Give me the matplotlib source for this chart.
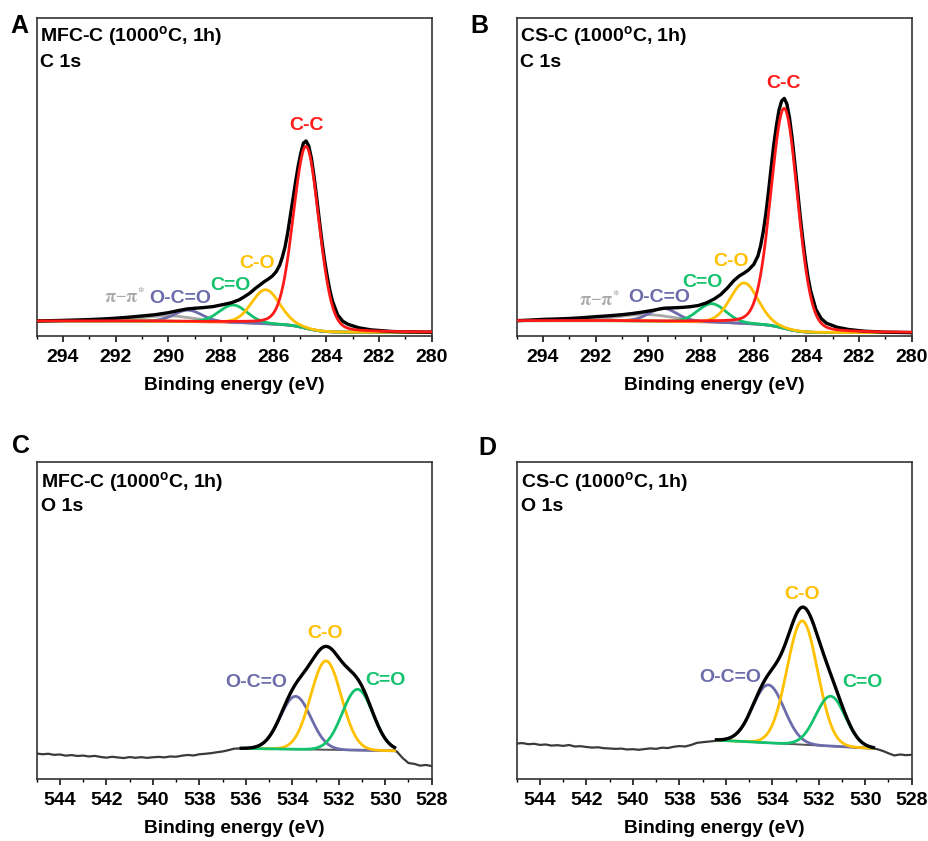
import numpy as np
import matplotlib
matplotlib.use('Agg')
import matplotlib.pyplot as plt
from matplotlib.ticker import MultipleLocator

plt.rcParams['font.family'] = ['Liberation Sans', 'DejaVu Sans']
plt.rcParams['font.weight'] = 'bold'
plt.rcParams['mathtext.fontset'] = 'custom'
plt.rcParams['mathtext.rm'] = 'Liberation Sans:bold'
plt.rcParams['mathtext.bf'] = 'Liberation Sans:bold'

# --- C 1s measured spectra (BE, intensity a.u.) ---
mfc_c1s_be = [280.0, 281.0, 281.5, 282.3, 282.77, 283.17, 283.37, 283.57, 283.77,
              283.87, 283.97, 284.07, 284.17, 284.27, 284.37, 284.47, 284.57,
              284.67, 284.77, 284.87, 284.97, 285.07, 285.17, 285.27, 285.37,
              285.47, 285.57, 285.67, 285.77, 285.9, 286.05, 286.2, 286.35,
              286.5, 286.7, 286.9, 287.1, 287.3, 287.6, 288.0, 288.3, 288.7,
              289.0, 289.3, 289.6, 290.0, 290.5, 291.0, 291.5, 292.0, 292.5,
              293.0, 293.5, 294.0, 294.5, 295.0]
mfc_c1s_counts = [3.8, 4.1, 4.5, 6.1, 8.2, 11.6, 14.6, 21.0, 35.0,
                  46.0, 60.0, 76.0, 95.0, 116.5, 139.0, 160.0, 178.0,
                  190.0, 195.0, 193.0, 183.0, 170.0, 154.0, 137.0, 120.0,
                  103.0, 89.0, 79.0, 71.0, 64.5, 60.0, 57.0, 54.5,
                  51.5, 47.5, 43.0, 39.5, 36.3, 33.3, 31.0, 29.4, 28.3,
                  27.7, 27.0, 25.5, 23.3, 21.3, 20.0, 18.8, 17.8, 17.0,
                  16.4, 16.0, 15.6, 15.3, 15.0]

cs_c1s_be = [280.0, 281.0, 281.8, 282.4, 282.84, 283.24, 283.44, 283.64, 283.84,
             283.94, 284.04, 284.14, 284.24, 284.34, 284.44, 284.54, 284.64,
             284.74, 284.84, 284.94, 285.04, 285.14, 285.24, 285.34, 285.44,
             285.54, 285.64, 285.74, 285.84, 286.0, 286.2, 286.36, 286.55,
             286.75, 287.0, 287.25, 287.5, 287.8, 288.1, 288.4, 288.7, 289.0,
             289.4, 289.8, 290.2, 290.6, 291.0, 291.5, 292.0, 292.5, 293.0,
             293.5, 294.0, 294.5, 295.0]
cs_c1s_counts = [3.4, 3.8, 4.8, 6.5, 8.8, 12.8, 17.5, 26.7, 45.3,
                 59.0, 76.8, 97.6, 121.0, 147.3, 173.0, 197.7, 218.0,
                 232.0, 237.6, 235.0, 226.0, 210.0, 191.0, 168.0, 144.0,
                 122.0, 104.0, 90.0, 80.0, 71.5, 66.0, 63.0, 60.0,
                 55.5, 48.0, 41.5, 37.0, 33.0, 30.5, 29.3, 28.6, 28.2,
                 27.8, 25.8, 24.0, 22.5, 21.3, 20.2, 19.3, 18.3, 17.5,
                 17.0, 16.6, 15.9, 15.3]

# --- C 1s fits: centre (eV), height, fwhm, lorentzian fraction ---
c1s_names = ['C-C', 'C-O', 'C=O', 'O-C=O', 'pi']
mfc_c1s_center = [284.77, 286.30, 287.54, 289.25, 290.0]
mfc_c1s_height = [182.0, 34.0, 17.5, 11.5, 5.5]
mfc_c1s_fwhm = [1.15, 1.25, 1.25, 1.25, 2.4]
mfc_c1s_bg = (15.0, 3.7)   # Shirley end levels (high BE, low BE)

cs_c1s_center = [284.84, 286.36, 287.59, 289.43, 290.1]
cs_c1s_height = [220.0, 40.5, 18.5, 13.0, 6.5]
cs_c1s_fwhm = [1.2, 1.25, 1.25, 1.25, 2.6]
cs_c1s_bg = (15.3, 3.3)

c1s_eta = [0.15, 0.1, 0.1, 0.1, 0.0]

# --- O 1s fits ---
o1s_names = ['O-C=O', 'C-O', 'C=O']
mfc_o1s_center = [533.86, 532.55, 531.19]
mfc_o1s_height = [53.0, 89.0, 61.0]
mfc_o1s_fwhm = [1.55, 1.55, 1.55]
mfc_o1s_window = (536.2, 529.6)
mfc_o1s_bg = (30.7, 28.3)

cs_o1s_center = [534.17, 532.71, 531.49]
cs_o1s_height = [58.0, 124.0, 50.0]
cs_o1s_fwhm = [1.6, 1.55, 1.5]
cs_o1s_window = (536.4, 529.65)
cs_o1s_bg = (39.0, 30.7)

# raw O 1s counts outside the fit window
o1s_left_be = [545.00, 544.75, 544.50, 544.25, 544.00, 543.75, 543.50, 543.25,
               543.00, 542.75, 542.50, 542.25, 542.00, 541.75, 541.50, 541.25,
               541.00, 540.75, 540.50, 540.25, 540.00, 539.75, 539.50, 539.25,
               539.00, 538.75, 538.50, 538.25, 538.00, 537.75, 537.50, 537.25,
               537.00, 536.75, 536.50]
mfc_o1s_left = [25.6, 24.8, 25.3, 24.2, 24.6, 23.4, 24.0, 23.1,
                23.5, 22.6, 23.2, 22.1, 21.4, 22.3, 21.6, 21.0,
                22.0, 21.3, 21.9, 21.2, 21.8, 22.2, 21.7, 22.6,
                22.3, 23.4, 24.1, 23.6, 24.8, 25.3, 25.9, 26.8,
                27.6, 28.9, 30.4]
cs_o1s_left = [35.6, 36.0, 34.9, 35.3, 34.2, 34.6, 33.5, 33.9,
               33.2, 34.1, 32.6, 32.9, 32.1, 31.5, 31.8, 30.9,
               30.6, 30.2, 30.5, 29.6, 29.9, 29.3, 30.0, 30.7,
               30.2, 31.4, 31.0, 32.3, 33.0, 32.6, 34.1, 36.2,
               36.9, 37.5, 38.1]
o1s_right_be = [529.50, 529.25, 529.00, 528.75, 528.50, 528.25, 528.00]
mfc_o1s_right = [27.5, 21.0, 16.0, 15.2, 13.4, 14.1, 13.0]
cs_o1s_right = [30.0, 28.2, 25.8, 23.6, 24.6, 23.9, 24.3]

c1s_colors = ['#ff1a1a', '#ffc000', '#12c26c', '#6c6cab', '#a8a8a8']
o1s_colors = ['#6c6cab', '#ffc000', '#12c26c']
bg_color = '#f47a7a'
FS = 14


def gl(x, c, h, w, eta=0.1):
    g = np.exp(-4 * np.log(2) * ((x - c) / w) ** 2)
    l = 1.0 / (1 + 4 * ((x - c) / w) ** 2)
    return h * ((1 - eta) * g + eta * l)


def style_axis(ax, xlim, major):
    ax.set_xlim(*xlim)
    ax.set_ylim(0, 318)
    ax.set_yticks([])
    ax.xaxis.set_major_locator(MultipleLocator(major))
    ax.xaxis.set_minor_locator(MultipleLocator(1))
    ax.tick_params(axis='x', which='major', length=4.5, width=1.1, labelsize=FS, pad=5)
    ax.tick_params(axis='x', which='minor', length=2.5, width=1.0)
    for lab in ax.get_xticklabels():
        lab.set_fontweight('bold')
    for s in ax.spines.values():
        s.set_linewidth(1.2)
        s.set_color('#333333')
    ax.set_xlabel('Binding energy (eV)', fontsize=13.8, fontweight='bold', labelpad=8)


def draw_c1s(ax, be, counts, centers, heights, fwhms, bgends, title, labels):
    x = np.linspace(280, 295, 1501)
    comps = [gl(x, c, h, w, e) for c, h, w, e in zip(centers, heights, fwhms, c1s_eta)]
    total = np.sum(comps, axis=0)
    cum = np.concatenate([[0], np.cumsum((total[1:] + total[:-1]) / 2 * np.diff(x))])
    bg = bgends[1] + (bgends[0] - bgends[1]) * cum / cum[-1]
    ax.plot(x, bg, color=bg_color, lw=1.8, zorder=2)
    ax.plot(be, counts, color='black', lw=2.4, zorder=3)
    for i in [4, 3, 2, 1, 0]:
        ax.plot(x, bg + comps[i], color=c1s_colors[i], lw=2.0, zorder=4 if i == 0 else 2.5)
    for (name, xe, ye), col in zip(labels, c1s_colors):
        if name == 'pi':
            ax.text(xe, ye, r'$\mathrm{\pi}$' + '\u2212' + r'$\mathrm{\pi}^{*}$', color=col,
                    fontsize=13, fontweight='normal', ha='center', va='baseline',
                    math_fontfamily='stix')
        else:
            ax.text(xe, ye, name, color=col, fontsize=FS, fontweight='bold',
                    ha='center', va='baseline')
    style_axis(ax, (295, 280), 2)
    ax.text(0.008, 0.923, title, transform=ax.transAxes, fontsize=FS, fontweight='bold')
    ax.text(0.008, 0.846, 'C 1s', transform=ax.transAxes, fontsize=FS, fontweight='bold')


def draw_o1s(ax, centers, heights, fwhms, window, bgends, left, right, title, labels):
    ax.plot(o1s_left_be + [window[0]], left + [bgends[0]], color='#3a3a3a', lw=1.6, zorder=2)
    ax.plot([window[1]] + o1s_right_be, [bgends[1]] + right, color='#3a3a3a', lw=1.6, zorder=2)
    x = np.linspace(window[1], window[0], 700)
    bg = bgends[1] + (bgends[0] - bgends[1]) * (x - window[1]) / (window[0] - window[1])
    comps = [gl(x, c, h, w, eta=0.0) for c, h, w in zip(centers, heights, fwhms)]
    ax.plot(x, bg, color='#555555', lw=1.4, zorder=2)
    for comp, col in zip(comps, o1s_colors):
        ax.plot(x, bg + comp, color=col, lw=2.0, zorder=3)
    ax.plot(x, bg + np.sum(comps, axis=0), color='black', lw=2.4, zorder=4)
    for (name, xe, ye), col in zip(labels, o1s_colors):
        ax.text(xe, ye, name, color=col, fontsize=FS, fontweight='bold',
                ha='center', va='baseline')
    style_axis(ax, (545, 528), 2)
    ax.text(0.011, 0.918, title, transform=ax.transAxes, fontsize=FS, fontweight='bold')
    ax.text(0.011, 0.846, 'O 1s', transform=ax.transAxes, fontsize=FS, fontweight='bold')


fig = plt.figure(figsize=(9.29, 8.41), dpi=100)
axA = fig.add_axes([0.0395, 0.6005, 0.4252, 0.3781])
axB = fig.add_axes([0.5562, 0.6005, 0.4252, 0.3781])
axC = fig.add_axes([0.0395, 0.0737, 0.4252, 0.3773])
axD = fig.add_axes([0.5562, 0.0737, 0.4252, 0.3773])

draw_c1s(axA, mfc_c1s_be, mfc_c1s_counts, mfc_c1s_center, mfc_c1s_height,
         mfc_c1s_fwhm, mfc_c1s_bg, r'MFC-C (1000$^{\mathbf{o}}$C, 1h)',
         [('C-C', 284.77, 206), ('C-O', 286.65, 68), ('C=O', 287.65, 46),
          ('O-C=O', 289.55, 33), ('pi', 291.65, 33)])
draw_c1s(axB, cs_c1s_be, cs_c1s_counts, cs_c1s_center, cs_c1s_height,
         cs_c1s_fwhm, cs_c1s_bg, r'CS-C (1000$^{\mathbf{o}}$C, 1h)',
         [('C-C', 284.87, 248), ('C-O', 286.87, 70), ('C=O', 287.95, 49),
          ('O-C=O', 289.57, 34), ('pi', 291.86, 30)])
draw_o1s(axC, mfc_o1s_center, mfc_o1s_height, mfc_o1s_fwhm, mfc_o1s_window, mfc_o1s_bg,
         mfc_o1s_left, mfc_o1s_right, r'MFC-C (1000$^{\mathbf{o}}$C, 1h)',
         [('O-C=O', 535.53, 92), ('C-O', 532.57, 141), ('C=O', 530.01, 94)])
draw_o1s(axD, cs_o1s_center, cs_o1s_height, cs_o1s_fwhm, cs_o1s_window, cs_o1s_bg,
         cs_o1s_left, cs_o1s_right, r'CS-C (1000$^{\mathbf{o}}$C, 1h)',
         [('O-C=O', 535.83, 97), ('C-O', 532.74, 180), ('C=O', 530.11, 92)])

for letter, fx, fy in [('A', 0.0108, 0.9608), ('B', 0.506, 0.9608),
                       ('C', 0.0129, 0.4614), ('D', 0.5145, 0.459)]:
    fig.text(fx, fy, letter, fontsize=18, fontweight='bold', va='baseline')

fig.savefig('out.png', dpi=100)
